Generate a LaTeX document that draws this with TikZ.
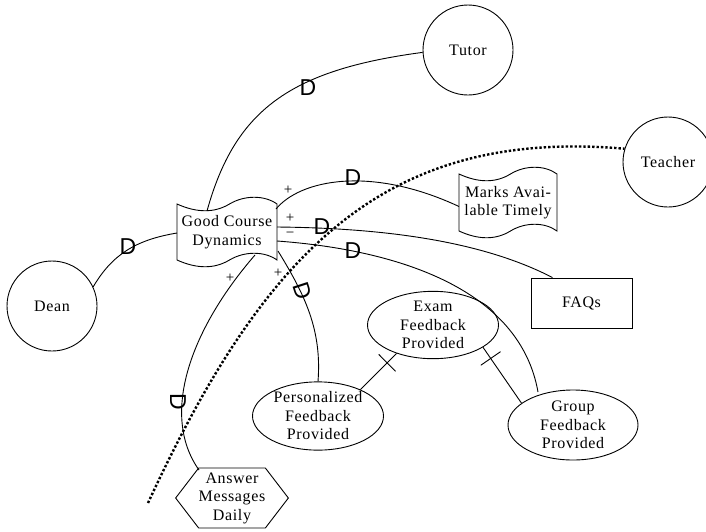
\documentclass[tikz,border=0pt]{standalone}
\usepackage{fontspec}
\setmainfont{Liberation Serif}[LetterSpace=4]
\newfontfamily\markfont{Liberation Sans}
\usetikzlibrary{shapes.geometric,shapes.symbols,calc}

% flag-like outline with wavy top and bottom around a node:
% #1 node name, #2 half width, #3 half height, #4 control offset of the wave
\newcommand\wavebox[4]{%
  \draw ($(#1.center)+(-#2,-#3)$)
    .. controls ($(#1.center)+(-#2*0.6,-#3+#4)$) and ($(#1.center)+(-#2*0.25,-#3+#4)$) .. ($(#1.center)+(#2*0.05,-#3)$)
    .. controls ($(#1.center)+(#2*0.35,-#3-#4)$) and ($(#1.center)+(#2*0.75,-#3-#4)$) .. ($(#1.center)+(#2,-#3)$)
    -- ($(#1.center)+(#2,#3)$)
    .. controls ($(#1.center)+(#2*0.75,#3-#4)$) and ($(#1.center)+(#2*0.35,#3-#4)$) .. ($(#1.center)+(#2*0.05,#3)$)
    .. controls ($(#1.center)+(-#2*0.25,#3+#4)$) and ($(#1.center)+(-#2*0.6,#3+#4)$) .. ($(#1.center)+(-#2,#3)$)
    -- cycle;}

\begin{document}
\begin{tikzpicture}[x=1pt,y=-1pt,line width=0.9pt,
  every node/.style={font=\fontsize{16}{18.5}\selectfont,align=center,inner sep=0pt},
  actor/.style={circle,draw,minimum size=90pt},
  goal/.style={ellipse,draw},
  softgoal/.style={rectangle},
  resource/.style={rectangle,draw},
  task/.style={signal,draw,signal to=west and east,signal pointer angle=105},
  dmark/.style={font=\markfont\fontsize{23}{23}\selectfont},
  sign/.style={font=\fontsize{15}{15}\selectfont},
  link/.style={line width=0.9pt},
  boundary/.style={line width=2.4pt,dash pattern=on 2.4pt off 2pt}
]
\useasboundingbox (0,0) rectangle (706,531);

% actors
\node[actor] (tutor) at (468,50) {Tutor};
\node[actor] (teacher) at (668,162) {Teacher};
\node[actor] (dean) at (52,306) {Dean};

% intentional elements
\node[softgoal,minimum width=100pt,minimum height=56pt] (gcd) at (227,232) {Good Course\\Dynamics};
\wavebox{gcd}{50}{28}{9}
\node[softgoal,minimum width=98pt,minimum height=57pt] (marks) at (508,202.5) {Marks Avai-\\lable Timely};
\wavebox{marks}{49}{28.5}{9}
\node[resource,minimum width=101pt,minimum height=50pt] (faqs) at (581.5,303) {FAQs};
\node[goal,minimum width=131pt,minimum height=60pt] (exam) at (433,325) {Exam\\Feedback\\Provided};
\node[goal,minimum width=131pt,minimum height=68pt] (pers) at (318,416) {Personalized\\Feedback\\Provided};
\node[goal,minimum width=130pt,minimum height=70pt] (group) at (573,425) {Group\\Feedback\\Provided};
\node[task,minimum width=111pt,minimum height=60pt] (ans) at (232,498) {Answer\\Messages\\Daily};

% dependency links
\draw[link] ($(gcd.center)+(-20,-21)$) .. controls (235,110) and (290,70) .. (tutor.183);
\draw[link] (dean.25) .. controls (112,255) and (135,240) .. ($(gcd.center)+(-50,1)$);

% contribution links
\draw[link] ($(gcd.center)+(49,-23)$) .. controls (300,180) and (370,165) .. ($(marks.center)+(-49,4)$);
\draw[link] ($(gcd.center)+(50,-5)$) .. controls (380,228) and (480,240) .. ($(faqs.north)+(-29,0)$);
\draw[link] ($(gcd.center)+(50,9)$) .. controls (400,250) and (520,290) .. ($(group.center)+(-35,-33)$);
\draw[link] ($(gcd.center)+(51,19)$) .. controls (305,295) and (322,330) .. (pers.north);
\draw[link] ($(gcd.center)+(28,23)$) .. controls (190,330) and (160,415) .. ($(ans.center)+(-33,-28)$);

% decomposition links with bars
\draw[link] (pers.32) -- (exam.218) coordinate[pos=0.74] (tk1);
\draw[link] ($(tk1)!12pt!90:(exam.218)$) -- ($(tk1)!12pt!-90:(exam.218)$);
\draw[link] (group.157) -- (exam.336) coordinate[pos=0.8] (tk2);
\draw[link] ($(tk2)!12pt!90:(exam.336)$) -- ($(tk2)!12pt!-90:(exam.336)$);

% boundary
\coordinate (bstart) at (148,503);
\draw[boundary] (bstart) .. controls (265,250) and (385,128) .. (teacher.163);

% dependency marks
\node[dmark] (m1) at (308,88) {D};
\node[dmark] (m2) at (128,247) {D};
\node[dmark] (m3) at (353,178) {D};
\node[dmark] (m4) at (322,227) {D};
\node[dmark] (m5) at (353,251) {D};
\node[dmark,rotate=-72] (m6) at (303,291) {D};
\node[dmark,rotate=-90] (m7) at (178,402) {D};

% contribution signs
\node[sign] (s1) at (288,190) {+};
\node[sign] (s2) at (290,218) {+};
\node[sign] (s3) at (290,235) {−};
\node[sign] (s4) at (278,273) {+};
\node[sign] (s5) at (230,278) {+};
\end{tikzpicture}
\end{document}
